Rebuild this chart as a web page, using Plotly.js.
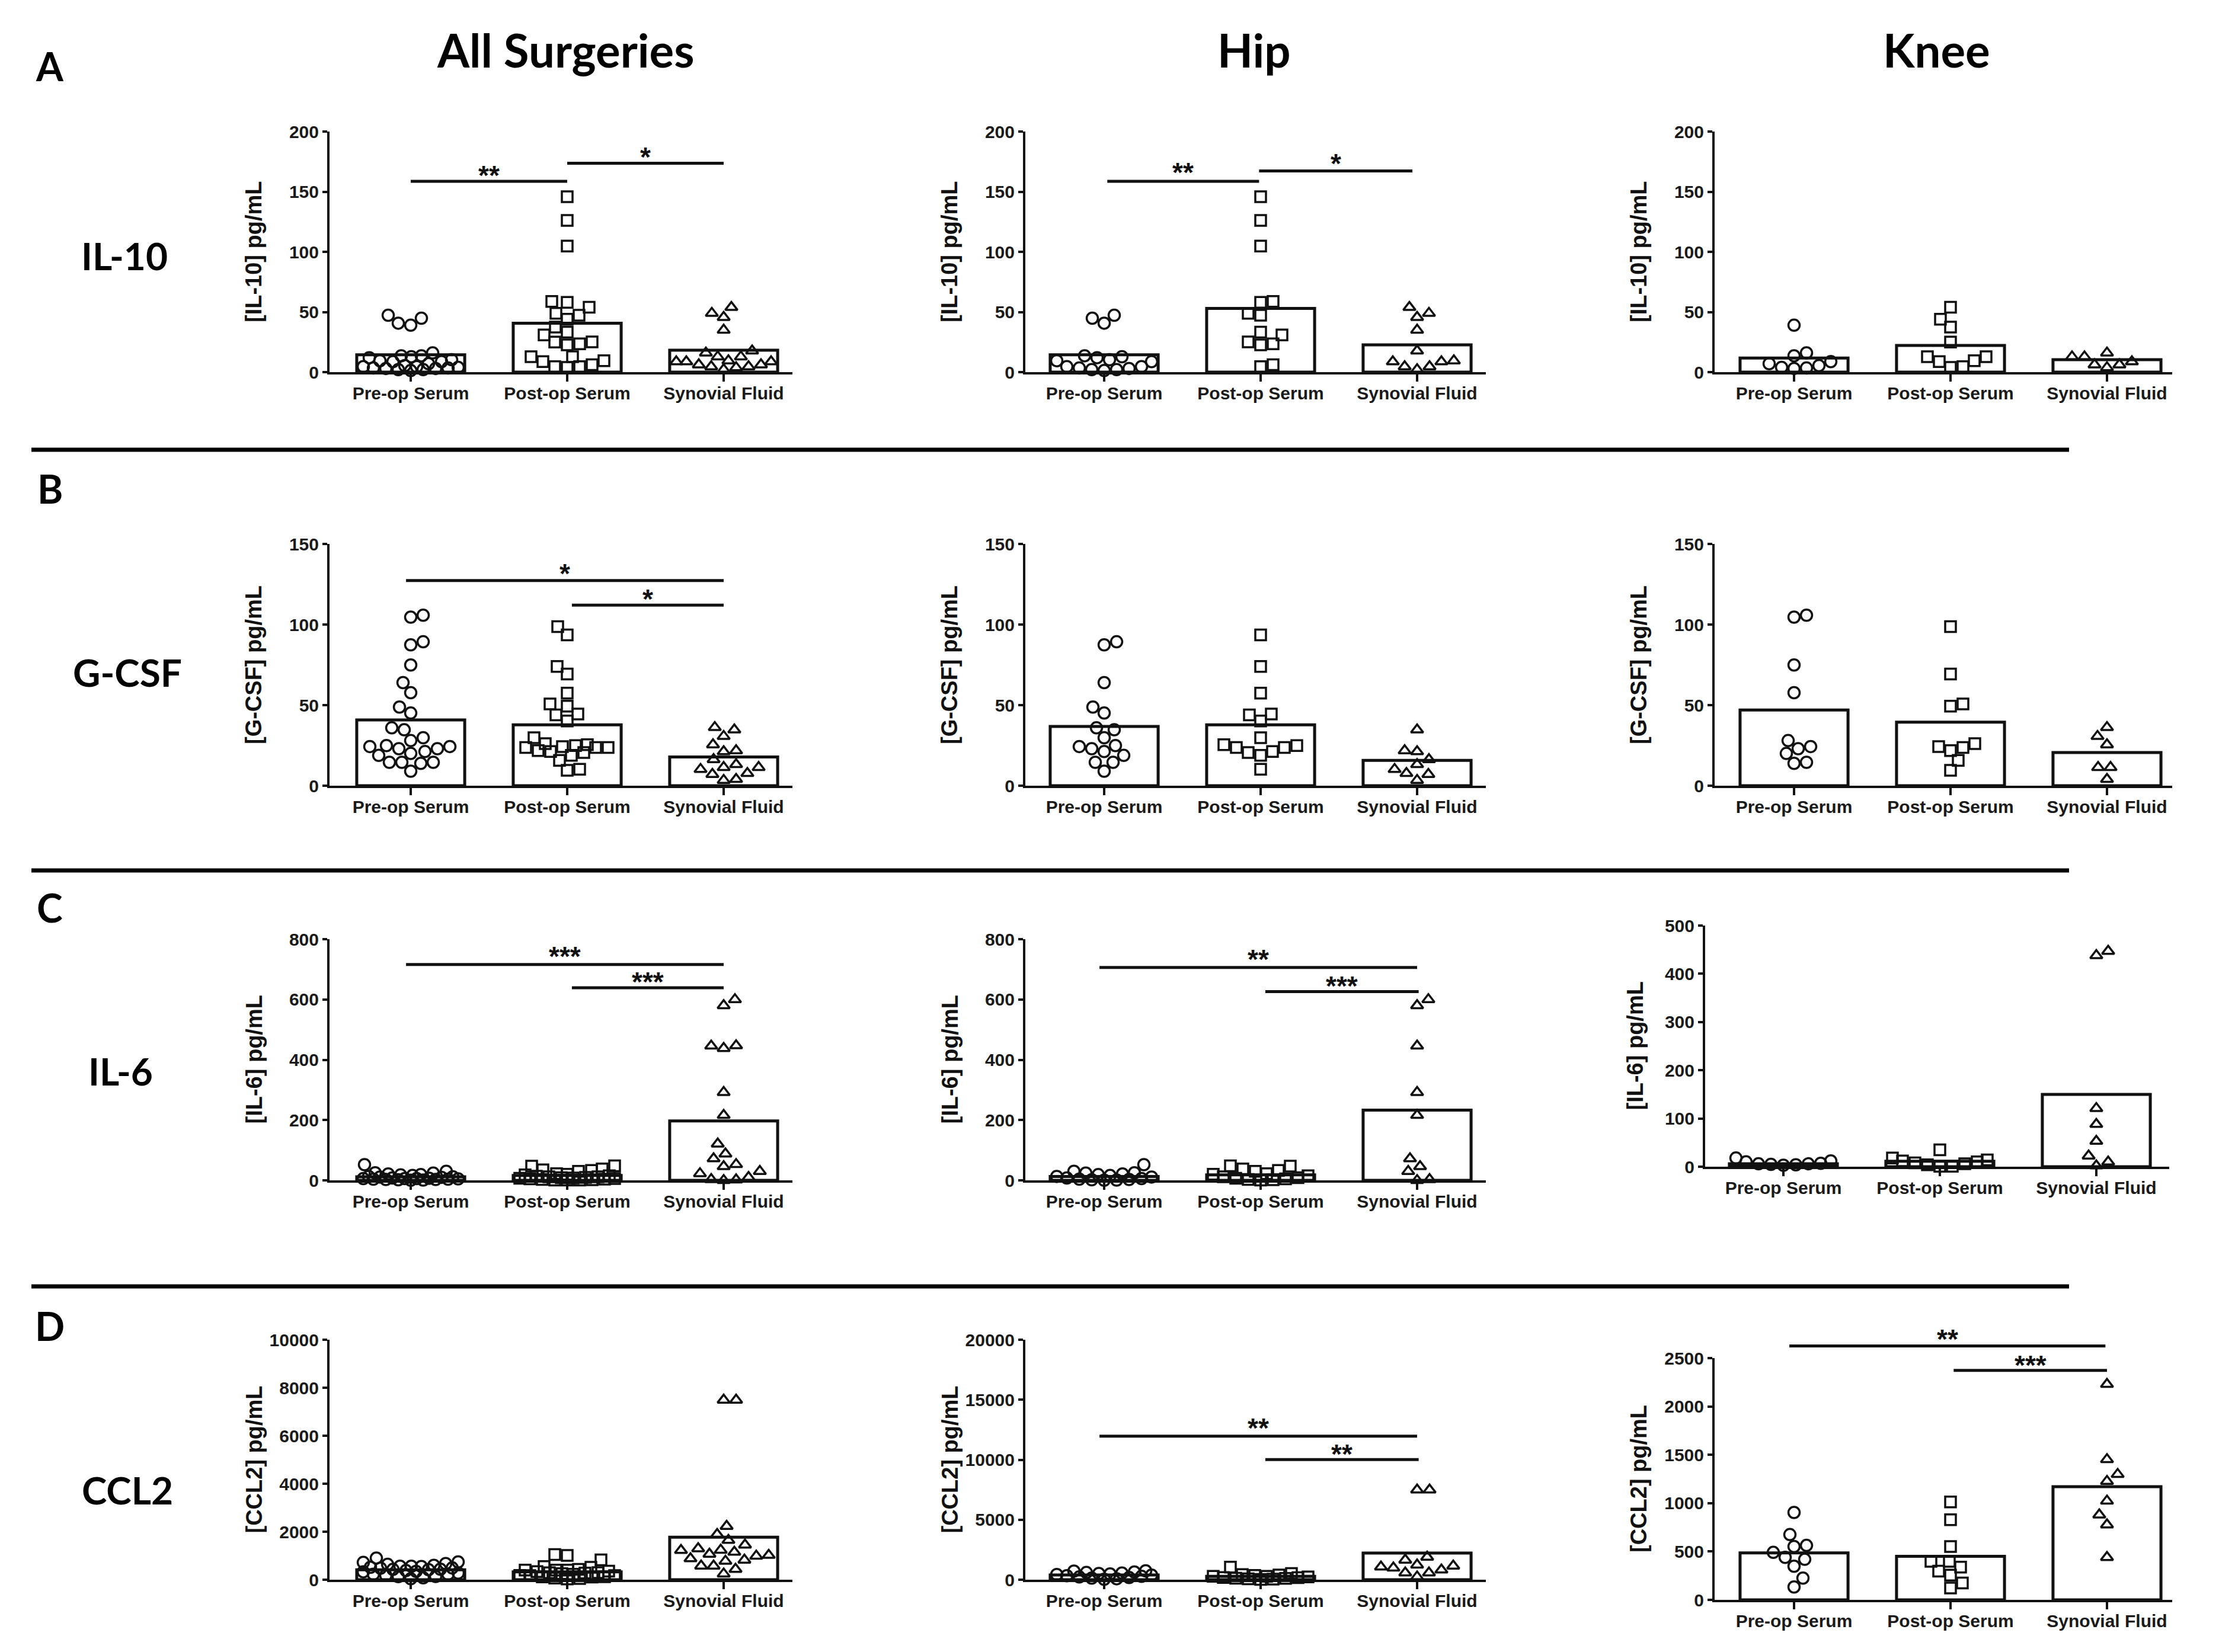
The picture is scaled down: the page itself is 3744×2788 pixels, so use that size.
<!DOCTYPE html>
<html><head><meta charset="utf-8">
<script src="https://cdn.plot.ly/plotly-3.0.1.min.js"></script>
<style>html,body{margin:0;padding:0;background:#fff}#chart{width:3744px;height:2788px}</style>
</head><body><div id="chart"></div>
<script>
// ---------------- DATA ----------------
const categories = ['Pre-op Serum', 'Post-op Serum', 'Synovial Fluid'];
const columnTitles = ['All Surgeries', 'Hip', 'Knee'];
const rowLetters = ['A', 'B', 'C', 'D'];
const rowLabels = ['IL-10', 'G-CSF', 'IL-6', 'CCL2'];
const yTitles = ['[IL-10] pg/mL', '[G-CSF] pg/mL', '[IL-6] pg/mL', '[CCL2] pg/mL'];

// IL-10 (pg/mL)
const il10HipPre  = [44.8, 40.7, 47.3, 12.8, 12.0, 9.5, 4.6, 3.0, 2.1, 1.3, 2.1, 3.4, 4.6, 8.7, 10.3, 13.6];
const il10HipPost = [145.8, 126.1, 104.8, 58.0, 58.8, 47.3, 48.9, 30.9, 33.3, 23.5, 22.7, 25.1, 4.6, 6.2];
const il10HipSyn  = [53.9, 49.0, 45.6, 35.0, 17.7, 8.7, 4.6, 2.1, 4.6, 8.7, 9.5];
const il10KneePre  = [13.6, 39.0, 16.0, 7.0, 4.0, 3.0, 3.4, 5.4, 8.7];
const il10KneePost = [53.9, 44.0, 37.4, 25.0, 12.8, 8.7, 4.0, 4.6, 9.5, 12.8];
const il10KneeSyn  = [16.0, 12.8, 6.2, 3.8, 6.2, 8.7, 12.8];
const il10AllMean  = [14.4, 40.7, 18.2];
const il10HipMean  = [14.4, 53.0, 22.7];
const il10KneeMean = [11.7, 22.2, 10.3];

// G-CSF (pg/mL)
const gcsfHipPre  = [89.3, 87.4, 64.0, 48.8, 45.1, 35.9, 34.7, 29.8, 24.3, 21.2, 23.0, 24.9, 18.8, 14.5, 14.5, 9.0];
const gcsfHipPost = [93.6, 74.0, 57.4, 44.5, 43.9, 40.2, 25.5, 23.7, 21.2, 20.6, 18.8, 23.7, 24.9, 29.8, 10.2];
const gcsfHipSyn  = [34.7, 21.8, 21.2, 16.3, 13.2, 10.2, 7.7, 7.1, 3.4];
const gcsfKneePre  = [104.6, 105.8, 74.9, 57.7, 24.3, 20.0, 23.0, 28.0, 13.9, 14.5];
const gcsfKneePost = [98.7, 69.3, 49.4, 50.7, 26.1, 23.7, 21.8, 24.3, 15.7, 9.6];
const gcsfKneeSyn  = [36.2, 30.7, 25.5, 11.4, 11.4, 4.0];
const gcsfAllMean  = [40.8, 37.8, 17.8];
const gcsfHipMean  = [36.8, 37.8, 15.7];
const gcsfKneeMean = [47.0, 39.4, 20.6];

// IL-6 (pg/mL)
const il6HipPre  = [52, 25, 21, 16, 11, 6, 3, 1, 0.5, 2, 4, 8, 13, 19, 24, 30];
const il6HipPost = [48, 38, 30, 22, 15, 9, 5, 2, 1, 3, 7, 12, 20, 33, 47];
const il6HipSyn  = [600, 580, 446, 292, 216, 72, 30, 46, 0, 3];
const il6KneePre  = [18, 10, 6, 4, 3, 5, 6, 12, 7];
const il6KneePost = [35, 18, 12, 8, 4, 1, 1, 6, 10, 14];
const il6KneeSyn  = [447, 438, 121, 88, 53, 22.5, 2, 10];
const il6AllMean  = [12, 16, 197];
const il6HipMean  = [13, 18, 233];
const il6KneeMean = [6, 11.5, 150];

// CCL2 (pg/mL)
const ccl2HipPre  = [740, 720, 640, 600, 560, 520, 480, 430, 380, 330, 280, 230, 180, 130, 80, 40];
const ccl2HipPost = [1050, 520, 430, 360, 290, 230, 170, 120, 70, 30, 50, 110, 180, 280, 400];
const ccl2HipSyn  = [7490, 7490, 1893, 1646, 1070, 823, 576, 247, 576, 988, 1152, 1235];
const ccl2KneePre  = [904, 675, 552, 563, 491, 419, 440, 348, 225, 133];
const ccl2KneePost = [1013, 829, 552, 399, 338, 399, 256, 297, 174, 123];
const ccl2KneeSyn  = [2230, 1452, 1299, 1227, 1023, 880, 777, 440];
const ccl2AllMean  = [411, 329, 1770];
const ccl2HipMean  = [400, 290, 2222];
const ccl2KneeMean = [485, 450, 1170];

// significance bars: from/to category, bar level, star level
const sigIL10All = [{from: 0, to: 1, y: 158.6, ty: 166.3, label: '**'}, {from: 1, to: 2, y: 173.7, ty: 181.9, label: '*'}];
const sigIL10Hip = [{from: 0.02, to: 0.99, y: 158.6, ty: 168.8, label: '**'}, {from: 0.99, to: 1.97, y: 167.2, ty: 176.2, label: '*'}];
const sigGcsfAll = [{from: -0.03, to: 2, y: 127.3, ty: 134, label: '*'}, {from: 1.03, to: 2, y: 112.0, ty: 118.1, label: '*'}];
const sigIl6All  = [{from: -0.03, to: 2, y: 716, ty: 754, label: '***'}, {from: 1.03, to: 2, y: 639, ty: 671, label: '***'}];
const sigIl6Hip  = [{from: -0.03, to: 2, y: 706, ty: 744, label: '**'}, {from: 1.03, to: 2.01, y: 626, ty: 657, label: '***'}];
const sigCcl2Hip = [{from: -0.03, to: 2, y: 11967, ty: 12922, label: '**'}, {from: 1.03, to: 2.01, y: 10008, ty: 10782, label: '**'}];
const sigCcl2Knee = [{from: -0.03, to: 1.99, y: 2625, ty: 2731, label: '**'}, {from: 1.02, to: 2.0, y: 2373, ty: 2465, label: '***'}];

// ---------------- LAYOUT GEOMETRY ----------------
const W = 3744, H = 2788, S = 264;
const cols = [{x0: 556, c0: 693, xe: 1337}, {x0: 1730, c0: 1863, xe: 2507}, {x0: 2893, c0: 3027, xe: 3665}];
const rows = [{top: 222, zero: 628}, {top: 918, zero: 1326}, {top: 1585, zero: 1992}, {top: 2261, zero: 2666}];
const AX = 'Liberation Sans, Arial, sans-serif';
const HD = 'Lato, Open Sans, sans-serif';

const panels = [
  {r: 0, c: 0, ymax: 200, dtick: 50, groups: [il10HipPre.concat(il10KneePre), il10HipPost.concat(il10KneePost), il10HipSyn.concat(il10KneeSyn)], means: il10AllMean, sig: sigIL10All},
  {r: 0, c: 1, ymax: 200, dtick: 50, groups: [il10HipPre, il10HipPost, il10HipSyn], means: il10HipMean, sig: sigIL10Hip},
  {r: 0, c: 2, ymax: 200, dtick: 50, groups: [il10KneePre, il10KneePost, il10KneeSyn], means: il10KneeMean, sig: []},
  {r: 1, c: 0, ymax: 150, dtick: 50, groups: [gcsfHipPre.concat(gcsfKneePre), gcsfHipPost.concat(gcsfKneePost), gcsfHipSyn.concat(gcsfKneeSyn)], means: gcsfAllMean, sig: sigGcsfAll},
  {r: 1, c: 1, ymax: 150, dtick: 50, groups: [gcsfHipPre, gcsfHipPost, gcsfHipSyn], means: gcsfHipMean, sig: []},
  {r: 1, c: 2, ymax: 150, dtick: 50, groups: [gcsfKneePre, gcsfKneePost, gcsfKneeSyn], means: gcsfKneeMean, sig: []},
  {r: 2, c: 0, ymax: 800, dtick: 200, groups: [il6HipPre.concat(il6KneePre), il6HipPost.concat(il6KneePost), il6HipSyn.concat(il6KneeSyn)], means: il6AllMean, sig: sigIl6All},
  {r: 2, c: 1, ymax: 800, dtick: 200, groups: [il6HipPre, il6HipPost, il6HipSyn], means: il6HipMean, sig: sigIl6Hip},
  {r: 2, c: 2, ymax: 500, dtick: 100, groups: [il6KneePre, il6KneePost, il6KneeSyn], means: il6KneeMean, sig: [],
   geo: {x0: 2877, c0: 3009, xe: 3660, top: 1562, zero: 1969}, tdist: 119},
  {r: 3, c: 0, ymax: 10000, dtick: 2000, groups: [ccl2HipPre.concat(ccl2KneePre), ccl2HipPost.concat(ccl2KneePost), ccl2HipSyn.concat(ccl2KneeSyn)], means: ccl2AllMean, sig: []},
  {r: 3, c: 1, ymax: 20000, dtick: 5000, groups: [ccl2HipPre, ccl2HipPost, ccl2HipSyn], means: ccl2HipMean, sig: sigCcl2Hip},
  {r: 3, c: 2, ymax: 2500, dtick: 500, groups: [ccl2KneePre, ccl2KneePost, ccl2KneeSyn], means: ccl2KneeMean, sig: sigCcl2Knee,
   geo: {top: 2292, zero: 2700}}
];

function geom(p) {
  return Object.assign({}, cols[p.c], rows[p.r], p.geo || {});
}

// beeswarm: offsets (px) so markers don't overlap, lowest values nearest the centre
function swarm(vals, pxPerUnit, d, maxHalf) {
  const order = vals.map((v, i) => i).sort((a, b) => vals[a] - vals[b]);
  const placed = [];
  const off = new Array(vals.length);
  order.forEach((i, k) => {
    const y = vals[i] * pxPerUnit;
    let best = 0, bestScore = -1;
    outer:
    for (let st = 0; st <= maxHalf; st += 1) {
      const cands = st === 0 ? [0] : (k % 2 ? [st, -st] : [-st, st]);
      for (const x of cands) {
        let m = Infinity;
        for (const q of placed) { const dd = Math.hypot(q.x - x, q.y - y); if (dd < m) m = dd; }
        if (m >= d) { best = x; bestScore = Infinity; break outer; }
        if (m > bestScore + 0.5) { bestScore = m; best = x; }
      }
    }
    off[i] = best;
    placed.push({x: best, y: y});
  });
  return off;
}

const symbols = ['circle-open', 'square-open', 'triangle-up-open'];
const sizes = [19, 18, 18];
const traces = [];
const layout = {
  width: W, height: H, margin: {l: 0, r: 0, t: 0, b: 0},
  paper_bgcolor: '#fff', plot_bgcolor: 'rgba(0,0,0,0)', showlegend: false,
  annotations: [], shapes: []
};
const black = '#111';

panels.forEach((p, i) => {
  const n = i + 1, s = n === 1 ? '' : String(n);
  const g = geom(p);
  const pxPerUnit = (g.zero - g.top) / p.ymax;
  const px = xv => (g.c0 + xv * S) / W;
  const py = yv => 1 - (g.zero - yv * pxPerUnit) / H;

  layout['xaxis' + s] = {
    domain: [g.x0 / W, g.xe / W], range: [-(g.c0 - g.x0) / S, (g.xe - g.c0) / S], anchor: 'y' + s,
    tickmode: 'array', tickvals: [0, 1, 2], ticktext: categories,
    ticks: 'outside', ticklen: 12, tickwidth: 4, tickcolor: black, ticklabelstandoff: -6,
    showline: true, linewidth: 4, linecolor: black, showgrid: false, zeroline: false, fixedrange: true,
    tickfont: {family: AX, size: 30, color: '#1a1a1a', weight: 'bold'}
  };
  layout['yaxis' + s] = {
    domain: [1 - g.zero / H, 1 - g.top / H], range: [0, p.ymax], anchor: 'x' + s,
    tickmode: 'linear', tick0: 0, dtick: p.dtick, tickformat: 'd',
    ticks: 'outside', ticklen: 8, tickwidth: 4, tickcolor: black,
    showline: true, linewidth: 4, linecolor: black, showgrid: false, zeroline: false, fixedrange: true,
    tickfont: {family: AX, size: 30, color: '#1a1a1a', weight: 'bold'}
  };

  traces.push({
    type: 'bar', x: [0, 1, 2], y: p.means, xaxis: 'x' + s, yaxis: 'y' + s, width: 0.69,
    marker: {color: 'white', line: {color: black, width: 5}}, hoverinfo: 'skip'
  });
  p.groups.forEach((vals, gi) => {
    const off = swarm(vals, pxPerUnit, 21, 80);
    traces.push({
      type: 'scatter', mode: 'markers', xaxis: 'x' + s, yaxis: 'y' + s, cliponaxis: false,
      x: vals.map((v, k) => gi + off[k] / S), y: vals,
      marker: {symbol: symbols[gi], size: sizes[gi], color: black, line: {color: black, width: 3.5}},
      hoverinfo: 'y'
    });
  });

  // y-axis title
  layout.annotations.push({
    xref: 'paper', yref: 'paper', x: (g.x0 - (p.tdist || 128)) / W, y: 1 - (g.top + g.zero) / 2 / H,
    text: yTitles[p.r], textangle: -90, showarrow: false, xanchor: 'center', yanchor: 'middle',
    font: {family: AX, size: 38, color: '#111', weight: 'bold'}
  });

  // significance bars
  p.sig.forEach(sg => {
    layout.shapes.push({
      type: 'line', xref: 'paper', yref: 'paper', x0: px(sg.from), x1: px(sg.to), y0: py(sg.y), y1: py(sg.y),
      line: {color: black, width: 5}
    });
    layout.annotations.push({
      xref: 'paper', yref: 'paper', x: px((sg.from + sg.to) / 2), y: py(sg.ty), yshift: -6,
      text: sg.label, showarrow: false, xanchor: 'center', yanchor: 'middle',
      font: {family: AX, size: 46, color: '#111', weight: 'bold'}
    });
  });
});

// column titles
const colTitleX = [955, 2116, 3267];
columnTitles.forEach((t, i) => layout.annotations.push({
  xref: 'paper', yref: 'paper', x: colTitleX[i] / W, y: 1 - 84 / H, text: t, showarrow: false,
  xanchor: 'center', yanchor: 'middle', font: {family: HD, size: 78, color: '#000', weight: 'bold'}
}));
// row letters and labels
const letterY = [112, 824, 1531, 2237];
const labelY = [432, 1134, 1808, 2514];
const labelX = [210, 215, 203, 215];
rowLetters.forEach((t, i) => layout.annotations.push({
  xref: 'paper', yref: 'paper', x: 84 / W, y: 1 - letterY[i] / H, text: t, showarrow: false,
  xanchor: 'center', yanchor: 'middle', font: {family: HD, size: 66, color: '#000', weight: 'bold'}
}));
rowLabels.forEach((t, i) => layout.annotations.push({
  xref: 'paper', yref: 'paper', x: labelX[i] / W, y: 1 - labelY[i] / H, text: t, showarrow: false,
  xanchor: 'center', yanchor: 'middle', font: {family: HD, size: 64, color: '#000', weight: 'bold'}
}));
// separators
[759, 1469, 2171].forEach(y => layout.shapes.push({
  type: 'line', xref: 'paper', yref: 'paper', x0: 53 / W, x1: 3491 / W, y0: 1 - y / H, y1: 1 - y / H,
  line: {color: '#000', width: 7}
}));

Plotly.newPlot('chart', traces, layout, {staticPlot: true});
</script></body></html>
